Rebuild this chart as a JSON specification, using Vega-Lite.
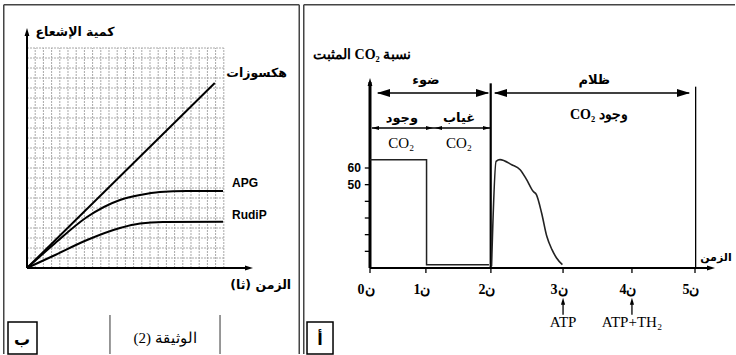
{
  "$schema": "https://vega.github.io/schema/vega-lite/v6.json",
  "background": "white",
  "padding": {"left": 3, "top": 4, "right": 0, "bottom": 0},
  "spacing": 3,
  "config": {"view": {"stroke": null}, "axis": {"disable": true}},
  "datasets": {
    "gridMajorV": [{"x":0,"y":0,"y2":22},{"x":1,"y":0,"y2":22},{"x":2,"y":0,"y2":22},{"x":3,"y":0,"y2":22},{"x":4,"y":0,"y2":22},{"x":5,"y":0,"y2":22},{"x":6,"y":0,"y2":22},{"x":7,"y":0,"y2":22},{"x":8,"y":0,"y2":22},{"x":9,"y":0,"y2":22},{"x":10,"y":0,"y2":22},{"x":11,"y":0,"y2":22},{"x":12,"y":0,"y2":22},{"x":13,"y":0,"y2":22},{"x":14,"y":0,"y2":22},{"x":15,"y":0,"y2":22},{"x":16,"y":0,"y2":22},{"x":17,"y":0,"y2":22},{"x":18,"y":0,"y2":22},{"x":19,"y":0,"y2":22},{"x":20,"y":0,"y2":22},{"x":21,"y":0,"y2":22},{"x":22,"y":0,"y2":22},{"x":23,"y":0,"y2":22},{"x":24,"y":0,"y2":22}],
    "gridMajorH": [{"y":0,"x":0,"x2":24},{"y":1,"x":0,"x2":24},{"y":2,"x":0,"x2":24},{"y":3,"x":0,"x2":24},{"y":4,"x":0,"x2":24},{"y":5,"x":0,"x2":24},{"y":6,"x":0,"x2":24},{"y":7,"x":0,"x2":24},{"y":8,"x":0,"x2":24},{"y":9,"x":0,"x2":24},{"y":10,"x":0,"x2":24},{"y":11,"x":0,"x2":24},{"y":12,"x":0,"x2":24},{"y":13,"x":0,"x2":24},{"y":14,"x":0,"x2":24},{"y":15,"x":0,"x2":24},{"y":16,"x":0,"x2":24},{"y":17,"x":0,"x2":24},{"y":18,"x":0,"x2":24},{"y":19,"x":0,"x2":24},{"y":20,"x":0,"x2":24},{"y":21,"x":0,"x2":24},{"y":22,"x":0,"x2":24}],
    "curvesL": [
      {"series":"هكسوزات","x":0,"y":0},{"series":"هكسوزات","x":22.9,"y":18.5},
      {"series":"APG","x":0,"y":0},{"series":"APG","x":3.17,"y":2.3},{"series":"APG","x":7.32,"y":5.1},{"series":"APG","x":11.34,"y":6.8},{"series":"APG","x":13.78,"y":7.3},{"series":"APG","x":16.22,"y":7.6},{"series":"APG","x":19.5,"y":7.7},{"series":"APG","x":23.9,"y":7.7},
      {"series":"RudiP","x":0,"y":0},{"series":"RudiP","x":3.17,"y":1.2},{"series":"RudiP","x":7.32,"y":2.8},{"series":"RudiP","x":11.34,"y":4.0},{"series":"RudiP","x":13.78,"y":4.45},{"series":"RudiP","x":16.58,"y":4.6},{"series":"RudiP","x":23.9,"y":4.62}
    ],
    "axesL": [{"x":0,"y":0,"x2":0,"y2":23.6},{"x":0,"y":0,"x2":27.07,"y2":0}],
    "frameL": [{"x":-2.835,"y":26.325,"x2":33.2,"y2":26.325},{"x":-2.835,"y":26.325,"x2":-2.835,"y2":-8.6},{"x":33.2,"y":26.325,"x2":33.2,"y2":-8.6}],
    "headsL": [{"x":0,"y":23.6,"dir":"up"},{"x":27.07,"y":0,"dir":"right"}],
    "boxesL": [{"x":-2.317,"x2":1.22,"y":-5.4,"y2":-8.6}],
    "sepL": [{"x":10.12,"y":-4.7,"x2":10.12,"y2":-8.6},{"x":23.54,"y":-4.7,"x2":23.54,"y2":-8.6}],
    "arabicL": [{"x":5.85,"y":23.6,"label":"كمية الإشعاع"},{"x":28.0,"y":19.5,"label":"هكسوزات"},{"x":28.5,"y":-1.7,"label":"\u202Bالزمن (ثا)\u202C"}],
    "latinL": [{"x":25.0,"y":8.5,"label":"APG"},{"x":25.0,"y":5.3,"label":"RudiP"}],
    "panelLetterL": [{"x":-0.61,"y":-7.2,"label":"ب"}],
    "docL": [{"x":16.83,"y":-7.0,"label":"\u202Bالوثيقة (2)\u202C"}],
    "frameR": [{"x":-1.0192,"y":157.95,"x2":5.6154,"y2":157.95},{"x":-1.0192,"y":157.95,"x2":-1.0192,"y2":-51.6}],
    "rThick": [{"x":0,"y":0,"x2":0,"y2":111.6}],
    "rMed": [{"x":0,"y":0,"x2":5.246,"y2":0},{"x":1.857,"y":0,"x2":1.857,"y2":110.8}],
    "rThin": [
      {"x":5.01,"y":0,"x2":5.01,"y2":108.8},
      {"x":0.12,"y":105,"x2":1.82,"y2":105},{"x":1.92,"y":105,"x2":4.91,"y2":105},
      {"x":0.03,"y":84,"x2":1.85,"y2":84},
      {"x":2.97,"y":-28,"x2":2.97,"y2":-20},{"x":4.03,"y":-28,"x2":4.03,"y2":-20},
      {"x":-0.08,"y":10,"x2":0,"y2":10},{"x":-0.08,"y":20,"x2":0,"y2":20},{"x":-0.08,"y":30,"x2":0,"y2":30},{"x":-0.08,"y":40,"x2":0,"y2":40},{"x":-0.08,"y":50,"x2":0,"y2":50},{"x":-0.08,"y":60,"x2":0,"y2":60},
      {"x":0,"y":0,"x2":0,"y2":-3},{"x":0.86,"y":0,"x2":0.86,"y2":-3},{"x":1.86,"y":0,"x2":1.86,"y2":-3},{"x":2.97,"y":0,"x2":2.97,"y2":-3},{"x":4.03,"y":0,"x2":4.03,"y2":-3},{"x":5.0,"y":0,"x2":5.0,"y2":-3}
    ],
    "stepR": [{"i":0,"x":0,"y":65},{"i":1,"x":0.87,"y":65},{"i":2,"x":0.87,"y":2},{"i":3,"x":1.83,"y":2}],
    "curveR": [{"x":1.87,"y":1},{"x":1.94,"y":64},{"x":2.0,"y":65},{"x":2.18,"y":62},{"x":2.31,"y":59},{"x":2.41,"y":53},{"x":2.51,"y":46},{"x":2.56,"y":44},{"x":2.64,"y":33},{"x":2.72,"y":19},{"x":2.80,"y":11},{"x":2.87,"y":6},{"x":2.96,"y":2}],
    "headsBig": [{"x":0.2077,"y":105,"dir":"left"},{"x":1.7308,"y":105,"dir":"right"},{"x":2.0077,"y":105,"dir":"left"},{"x":4.823,"y":105,"dir":"right"}],
    "headsSmall": [{"x":0.0846,"y":84,"dir":"left"},{"x":0.915,"y":84,"dir":"right"},{"x":1.054,"y":84,"dir":"left"},{"x":1.792,"y":84,"dir":"right"},{"x":2.97,"y":-19.9,"dir":"up"},{"x":4.03,"y":-19.9,"dir":"up"}],
    "headsAxis": [{"x":0,"y":111.6,"dir":"up"},{"x":5.246,"y":0,"dir":"right"}],
    "boxR": [{"x":-0.969,"x2":-0.569,"y":-32.4,"y2":-51.6}],
    "arabicR": [{"x":0.86,"y":113,"label":"ضوء"},{"x":3.45,"y":113,"label":"ظلام"},{"x":0.49,"y":90,"label":"وجود"},{"x":1.37,"y":90,"label":"غياب"}],
    "mixedR": [{"x":-0.12,"y":127.8,"label":"\u202Bنسبة CO₂ المثبت\u202C"},{"x":3.52,"y":92,"label":"\u202Bوجود CO₂\u202C"}],
    "co2R": [{"x":0.48,"y":75,"label":"CO₂"},{"x":1.37,"y":75,"label":"CO₂"}],
    "yLabR": [{"x":-0.14,"y":60,"label":"60"},{"x":-0.14,"y":50,"label":"50"}],
    "xLabR": [{"x":0,"y":-13.2,"label":"ن0"},{"x":0.86,"y":-13.2,"label":"ن1"},{"x":1.86,"y":-13.2,"label":"ن2"},{"x":2.97,"y":-13.2,"label":"ن3"},{"x":4.03,"y":-13.2,"label":"ن4"},{"x":5.0,"y":-13.2,"label":"ن5"}],
    "timeR": [{"x":5.08,"y":6,"label":"الزمن"}],
    "atpR": [{"x":2.97,"y":-32.4,"label":"ATP"},{"x":4.03,"y":-32.4,"label":"ATP+TH₂"}],
    "panelLetterR": [{"x":-0.77,"y":-43.2,"label":"أ"}]
  },
  "hconcat": [
    {
      "width": 297,
      "height": 350,
      "encoding": {
        "x": {"field": "x", "type": "quantitative", "scale": {"domain": [-2.9268, 33.2927], "nice": false, "zero": false}, "axis": null},
        "y": {"field": "y", "type": "quantitative", "scale": {"domain": [-8.6, 26.4], "nice": false, "zero": false}, "axis": null}
      },
      "layer": [
        {"data": {"name": "gridMajorV"}, "mark": {"type": "rule", "stroke": "#a8a8a8", "strokeWidth": 1, "strokeDash": [2, 1]}, "encoding": {"y2": {"field": "y2"}}},
        {"data": {"name": "gridMajorH"}, "mark": {"type": "rule", "stroke": "#a8a8a8", "strokeWidth": 1, "strokeDash": [2, 1]}, "encoding": {"x2": {"field": "x2"}}},
        {"data": {"name": "frameL"}, "mark": {"type": "rule", "color": "#444", "strokeWidth": 1.5}, "encoding": {"x2": {"field": "x2"}, "y2": {"field": "y2"}}},
        {"data": {"name": "curvesL"}, "mark": {"type": "line", "color": "black", "strokeWidth": 2, "interpolate": "monotone"}, "encoding": {"detail": {"field": "series", "type": "nominal"}}},
        {"data": {"name": "axesL"}, "mark": {"type": "rule", "color": "black", "strokeWidth": 2}, "encoding": {"x2": {"field": "x2"}, "y2": {"field": "y2"}}},
        {"data": {"name": "headsL"}, "mark": {"type": "point", "filled": true, "color": "black", "opacity": 1, "size": 64}, "encoding": {"shape": {"field": "dir", "type": "nominal", "scale": {"domain": ["left", "right", "up"], "range": ["M-1,0L1,-0.6L1,0.6Z", "M1,0L-1,-0.6L-1,0.6Z", "M0,-1L-0.6,1L0.6,1Z"]}, "legend": null}}},
        {"data": {"name": "boxesL"}, "mark": {"type": "rect", "filled": false, "stroke": "black", "strokeWidth": 1.5}, "encoding": {"x2": {"field": "x2"}, "y2": {"field": "y2"}}},
        {"data": {"name": "sepL"}, "mark": {"type": "rule", "color": "#333", "strokeWidth": 1}, "encoding": {"x2": {"field": "x2"}, "y2": {"field": "y2"}}},
        {"data": {"name": "arabicL"}, "mark": {"type": "text", "font": "DejaVu Sans", "fontWeight": "bold", "fontSize": 12.5, "align": "center", "baseline": "middle", "color": "black"}, "encoding": {"text": {"field": "label"}}},
        {"data": {"name": "latinL"}, "mark": {"type": "text", "font": "Liberation Sans", "fontWeight": "bold", "fontSize": 12, "align": "left", "baseline": "middle", "color": "black"}, "encoding": {"text": {"field": "label"}}},
        {"data": {"name": "panelLetterL"}, "mark": {"type": "text", "font": "DejaVu Sans", "fontWeight": "bold", "fontSize": 16, "align": "center", "baseline": "middle", "color": "black"}, "encoding": {"text": {"field": "label"}}},
        {"data": {"name": "docL"}, "mark": {"type": "text", "font": "Liberation Serif", "fontSize": 15, "align": "center", "baseline": "middle", "color": "black"}, "encoding": {"text": {"field": "label"}}}
      ]
    },
    {
      "width": 432,
      "height": 350,
      "encoding": {
        "x": {"field": "x", "type": "quantitative", "scale": {"domain": [-1.0308, 5.6154], "nice": false, "zero": false}, "axis": null},
        "y": {"field": "y", "type": "quantitative", "scale": {"domain": [-51.6, 158.4], "nice": false, "zero": false}, "axis": null}
      },
      "layer": [
        {"data": {"name": "frameR"}, "mark": {"type": "rule", "color": "#444", "strokeWidth": 1.5}, "encoding": {"x2": {"field": "x2"}, "y2": {"field": "y2"}}},
        {"data": {"name": "rThin"}, "mark": {"type": "rule", "color": "black", "strokeWidth": 1.3}, "encoding": {"x2": {"field": "x2"}, "y2": {"field": "y2"}}},
        {"data": {"name": "rMed"}, "mark": {"type": "rule", "color": "black", "strokeWidth": 2.2}, "encoding": {"x2": {"field": "x2"}, "y2": {"field": "y2"}}},
        {"data": {"name": "rThick"}, "mark": {"type": "rule", "color": "black", "strokeWidth": 3}, "encoding": {"x2": {"field": "x2"}, "y2": {"field": "y2"}}},
        {"data": {"name": "stepR"}, "mark": {"type": "line", "color": "#222", "strokeWidth": 1.5}, "encoding": {"order": {"field": "i", "type": "quantitative"}}},
        {"data": {"name": "curveR"}, "mark": {"type": "line", "color": "#222", "strokeWidth": 1.6, "interpolate": "monotone"}},
        {"data": {"name": "headsBig"}, "mark": {"type": "point", "filled": true, "color": "black", "opacity": 1, "size": 169}, "encoding": {"shape": {"field": "dir", "type": "nominal", "scale": {"domain": ["left", "right", "up"], "range": ["M-1,0L1,-0.6L1,0.6Z", "M1,0L-1,-0.6L-1,0.6Z", "M0,-1L-0.6,1L0.6,1Z"]}, "legend": null}}},
        {"data": {"name": "headsSmall"}, "mark": {"type": "point", "filled": true, "color": "black", "opacity": 1, "size": 49}, "encoding": {"shape": {"field": "dir", "type": "nominal", "legend": null}}},
        {"data": {"name": "headsAxis"}, "mark": {"type": "point", "filled": true, "color": "black", "opacity": 1, "size": 64}, "encoding": {"shape": {"field": "dir", "type": "nominal", "legend": null}}},
        {"data": {"name": "boxR"}, "mark": {"type": "rect", "filled": false, "stroke": "black", "strokeWidth": 1.5}, "encoding": {"x2": {"field": "x2"}, "y2": {"field": "y2"}}},
        {"data": {"name": "arabicR"}, "mark": {"type": "text", "font": "DejaVu Sans", "fontWeight": "bold", "fontSize": 13, "align": "center", "baseline": "middle", "color": "black"}, "encoding": {"text": {"field": "label"}}},
        {"data": {"name": "mixedR"}, "mark": {"type": "text", "font": "Liberation Serif", "fontWeight": "bold", "fontSize": 14, "align": "center", "baseline": "middle", "color": "black"}, "encoding": {"text": {"field": "label"}}},
        {"data": {"name": "co2R"}, "mark": {"type": "text", "font": "Liberation Serif", "fontSize": 15, "align": "center", "baseline": "middle", "color": "black"}, "encoding": {"text": {"field": "label"}}},
        {"data": {"name": "yLabR"}, "mark": {"type": "text", "font": "Liberation Sans", "fontWeight": "bold", "fontSize": 12, "align": "right", "baseline": "middle", "color": "black"}, "encoding": {"text": {"field": "label"}}},
        {"data": {"name": "xLabR"}, "mark": {"type": "text", "font": "Liberation Serif", "fontWeight": "bold", "fontSize": 14, "align": "center", "baseline": "middle", "dx": -4, "color": "black"}, "encoding": {"text": {"field": "label"}}},
        {"data": {"name": "timeR"}, "mark": {"type": "text", "font": "DejaVu Sans", "fontWeight": "bold", "fontSize": 11, "align": "left", "baseline": "middle", "color": "black", "clip": true}, "encoding": {"text": {"field": "label"}}},
        {"data": {"name": "atpR"}, "mark": {"type": "text", "font": "Liberation Serif", "fontSize": 15, "align": "center", "baseline": "middle", "color": "black"}, "encoding": {"text": {"field": "label"}}},
        {"data": {"name": "panelLetterR"}, "mark": {"type": "text", "font": "DejaVu Sans", "fontWeight": "bold", "fontSize": 16, "align": "center", "baseline": "middle", "color": "black"}, "encoding": {"text": {"field": "label"}}}
      ]
    }
  ]
}
